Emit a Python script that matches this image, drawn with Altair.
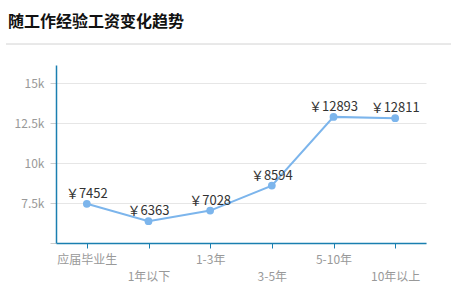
import altair as alt
import pandas as pd

categories = ["应届毕业生", "1年以下", "1-3年", "3-5年", "5-10年", "10年以上"]
salaries = [7452, 6363, 7028, 8594, 12893, 12811]
y_ticks = [5000, 7500, 10000, 12500, 15000]

df = pd.DataFrame({"exp": categories, "salary": salaries})
df["label"] = ["￥" + str(v) for v in salaries]

FONT = "Noto Sans CJK SC"
AXIS_COLOR = "#1a7fb0"
LINE_COLOR = "#7cb5ec"

x_enc = alt.X(
    "exp:N",
    sort=categories,
    scale=alt.Scale(paddingInner=0, paddingOuter=0),
    axis=alt.Axis(
        title=None,
        labelAngle=0,
        labelFont=FONT,
        labelFontSize=12,
        labelColor="#999999",
        labelPadding=6,
        labelLineHeight=17,
        labelExpr="indexof(['1年以下','3-5年','10年以上'], datum.value) >= 0 ? ['', datum.value] : datum.value",
        domainColor=AXIS_COLOR,
        domainWidth=1.5,
        tickColor=AXIS_COLOR,
        tickSize=5,
        grid=False,
    ),
)
y_enc = alt.Y(
    "salary:Q",
    scale=alt.Scale(domain=[5000, 16140], nice=False, zero=False),
    axis=alt.Axis(
        title=None,
        values=y_ticks,
        labelExpr="datum.value == 5000 ? '' : datum.value / 1000 + 'k'",
        labelFont=FONT,
        labelFontSize=12,
        labelColor="#999999",
        labelPadding=6,
        domainColor=AXIS_COLOR,
        domainWidth=1.5,
        tickColor="#cccccc",
        tickSize=6,
        gridColor="#e6e6e6",
        grid=True,
    ),
)

base = alt.Chart(df)
line = base.mark_line(color=LINE_COLOR, strokeWidth=2).encode(x=x_enc, y=y_enc)
points = base.mark_circle(color=LINE_COLOR, size=60, opacity=1).encode(x=x_enc, y=y_enc)
labels = base.mark_text(
    font=FONT, fontSize=13, color="#333333", dy=-6, baseline="alphabetic"
).encode(x=x_enc, y=y_enc, text="label:N")
sep = base.mark_rule(color="#e8e8e8", strokeWidth=1).encode(
    x=alt.value(-50), x2=alt.value(395), y=alt.value(-21)
)

chart = (
    alt.layer(sep, line, points, labels)
    .properties(
        width=370,
        height=178,
        padding={"left": 56, "top": 65, "right": 25, "bottom": 52},
        autosize=alt.AutoSizeParams(type="none"),
        title=alt.TitleParams(
            "随工作经验工资变化趋势",
            anchor="start",
            frame="group",
            font=FONT,
            fontSize=16,
            fontWeight="bold",
            color="#111111",
            dx=-48,
            offset=14,
        ),
    )
    .configure_view(stroke=None)
)

chart.save("out.html", embed_options={"renderer": "svg", "actions": False})
